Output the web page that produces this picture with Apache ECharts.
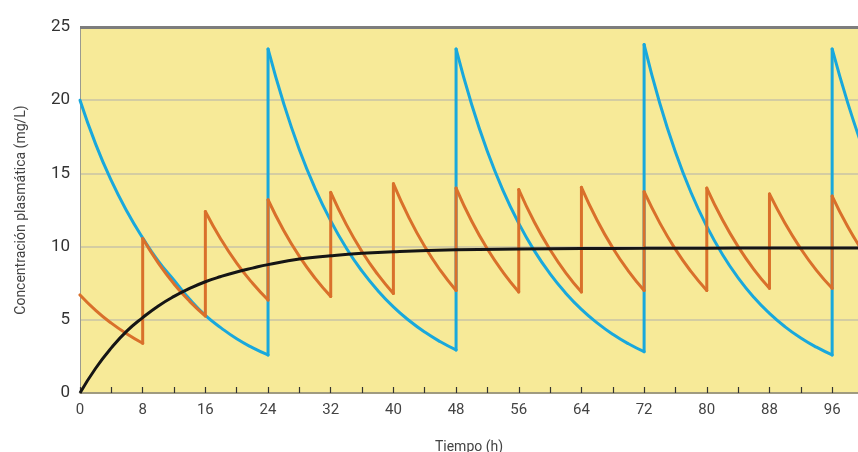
<!DOCTYPE html>
<html>
<head>
<meta charset="utf-8">
<script src="https://cdn.jsdelivr.net/npm/echarts@6/dist/echarts.min.js"></script>
<style>
html,body{margin:0;padding:0;background:#fff;}
#chart{width:858px;height:452px;}
</style>
</head>
<body>
<div id="chart"></div>
<script>
// Dose every 24 h (blue)
const blueTime = [0,2,4,6,8,10,12,14,16,18,20,22,24,
  24,26,28,30,32,34,36,38,40,42,44,46,48,
  48,50,52,54,56,58,60,62,64,66,68,70,72,
  72,74,76,78,80,82,84,86,88,90,92,94,96,
  96,98,100];
const blueConc = [20,17.0,14.5,12.4,10.6,9.0,7.7,6.4,5.3,4.45,3.7,3.1,2.6,
  23.5,19.77,16.62,13.98,11.76,9.89,8.32,7.0,5.88,4.95,4.16,3.5,2.94,
  23.5,19.69,16.5,13.83,11.59,9.71,8.14,6.82,5.71,4.79,4.01,3.36,2.82,
  23.8,19.79,16.46,13.68,11.38,9.46,7.87,6.54,5.44,4.52,3.76,3.13,2.6,
  23.5,19.8,16.6];

// Dose every 8 h (orange)
const orangeTime = [0,2,4,6,8, 8,10,12,14,16, 16,18,20,22,24, 24,26,28,30,32,
  32,34,36,38,40, 40,42,44,46,48, 48,50,52,54,56, 56,58,60,62,64,
  64,66,68,70,72, 72,74,76,78,80, 80,82,84,86,88, 88,90,92,94,96, 96,98,100];
const orangeConc = [6.7,5.65,4.77,4.03,3.4, 10.55,8.87,7.45,6.26,5.26, 12.4,10.49,8.87,7.51,6.35,
  13.2,11.1,9.33,7.85,6.6, 13.7,11.5,9.65,8.1,6.8, 14.3,11.96,10.0,8.37,7.0,
  14.0,11.73,9.83,8.24,6.9, 13.9,11.66,9.79,8.21,6.9, 14.05,11.8,9.91,8.33,7.0,
  13.75,11.62,9.81,8.29,7.0, 14.0,11.83,10.0,8.45,7.15, 13.6,11.58,9.85,8.38,7.15,
  13.45,11.35,9.6];

// Continuous infusion (black)
const blackTime = [0,2,4,6,8,10,12,14,16,18,20,22,24,28,32,36,40,48,56,64,72,80,88,96,100];
const blackConc = [0,1.69,3.08,4.24,5.15,5.95,6.6,7.14,7.6,7.96,8.27,8.53,8.77,9.15,9.37,9.54,9.65,9.78,9.84,9.87,9.88,9.89,9.9,9.9,9.9];

const xLabels = [0,8,16,24,32,40,48,56,64,72,80,88,96];
const yLabels = [0,5,10,15,20,25];

// Split a saw-tooth curve into smooth decay pieces and straight vertical jumps
function sawSeries(t, c, color, z){
  const out = [];
  let seg = [[t[0], c[0]]];
  for (let i = 1; i < t.length; i++){
    if (t[i] === t[i-1]){
      out.push(seg);
      out.push({jump:[[t[i-1], c[i-1]], [t[i], c[i]]]});
      seg = [[t[i], c[i]]];
    } else {
      seg.push([t[i], c[i]]);
    }
  }
  out.push(seg);
  return out.map(p => {
    const isJump = !Array.isArray(p);
    return {
      type:'line', data: isJump ? p.jump : p, showSymbol:false, clip:true,
      smooth: isJump ? false : 0.5,
      lineStyle:{color:color, width:3, cap:'round', join:'round'}, z:z
    };
  });
}

const chart = echarts.init(document.getElementById('chart'));
const font = 'Roboto, "Open Sans", sans-serif';
const series = [].concat(
  sawSeries(blueTime, blueConc, '#19a8dc', 2),
  sawSeries(orangeTime, orangeConc, '#d9702b', 3),
  [{type:'line',data:blackTime.map((v,i)=>[v,blackConc[i]]),showSymbol:false,clip:true,smooth:true,
    lineStyle:{color:'#151515',width:3},z:4}]
);
series[0].markLine = {silent:true,symbol:'none',label:{show:false},
  lineStyle:{color:'#7d7d7d',width:3,type:'solid'},data:[{yAxis:25}]};

chart.setOption({
  animation:false,
  backgroundColor:'#ffffff',
  grid:{left:80,right:0,top:27,bottom:59,show:true,backgroundColor:'#f7ea98',borderWidth:0,
    outerBoundsMode:'none',containLabel:false},
  xAxis:{
    type:'value',min:0,max:99.3,interval:4,
    name:'Tiempo (h)',nameLocation:'middle',nameGap:47,
    nameTextStyle:{fontFamily:font,fontSize:14,color:'#444'},
    axisLine:{show:true,lineStyle:{color:'#8f8a70',width:1.5}},
    axisTick:{show:true,inside:true,length:6,lineStyle:{color:'#333',width:1.2}},
    axisLabel:{fontFamily:font,fontSize:15,color:'#444',margin:10,showMaxLabel:false,
      formatter:v=> xLabels.indexOf(v)>=0 ? String(v) : ''},
    splitLine:{show:false}
  },
  yAxis:{
    type:'value',min:0,max:25,interval:5,
    name:'Concentración plasmática (mg/L)',nameLocation:'middle',nameGap:52,
    nameTextStyle:{fontFamily:font,fontSize:14,color:'#444'},
    axisLine:{show:true,lineStyle:{color:'#9a9a90',width:1}},
    axisTick:{show:false},
    axisLabel:{fontFamily:font,fontSize:17,color:'#333',margin:10,
      formatter:v=> yLabels.indexOf(v)>=0 ? String(v) : ''},
    splitLine:{show:true,lineStyle:{color:'#c9c3a6',width:1.5}}
  },
  series: series
});
</script>
</body>
</html>
